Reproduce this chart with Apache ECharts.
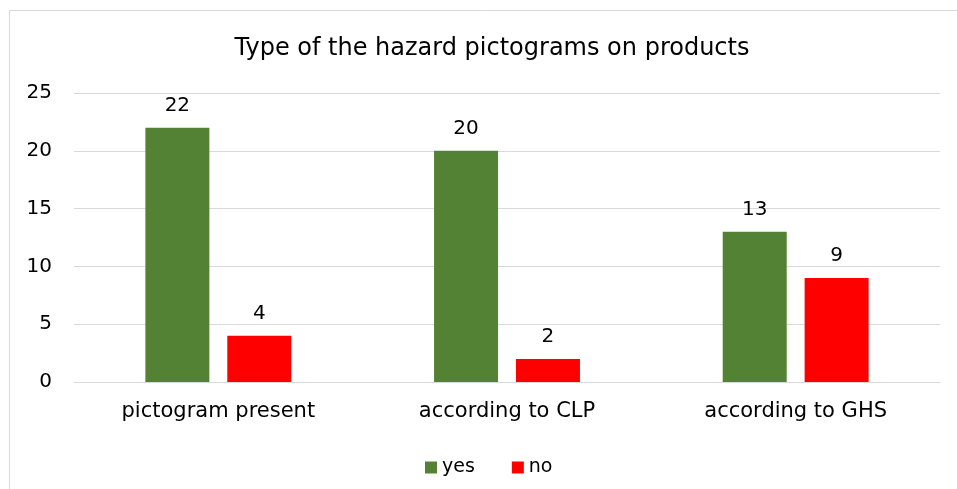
<!DOCTYPE html>
<html><head><meta charset="utf-8">
<script src="https://cdn.jsdelivr.net/npm/echarts@6/dist/echarts.min.js"></script>
<style>html,body{margin:0;padding:0;background:#fff;overflow:hidden}#c{width:957px;height:489px}</style>
</head><body><div id="c"></div>
<script>
const categories = ['pictogram present', 'according to CLP', 'according to GHS'];
const yesValues = [22, 20, 13];
const noValues = [4, 2, 9];
const yTicks = [0, 5, 10, 15, 20, 25];

const font = 'DejaVu Sans';
const chart = echarts.init(document.getElementById('c'), null, {renderer: 'canvas'});
chart.setOption({
  animation: false,
  graphic: [{type: 'polyline', shape: {points: [[9.5, 600], [9.5, 10.5], [1200, 10.5]]},
    style: {fill: null, stroke: '#d9d9d9', lineWidth: 1}, silent: true, z: -10}],
  title: {text: 'Type of the hazard pictograms on products', left: 487, textAlign: 'center', top: 32,
    textStyle: {fontFamily: font, fontSize: 24, fontWeight: 'normal', color: '#000'}},
  grid: {left: 74, right: 17, top: 93, bottom: 107, containLabel: false},
  legend: {bottom: 7, left: 420, itemWidth: 12, itemHeight: 12, itemGap: 37,
    icon: 'rect', textStyle: {fontFamily: font, fontSize: 19, color: '#000'},
    data: ['yes', 'no']},
  xAxis: {type: 'category', data: categories,
    axisLine: {lineStyle: {color: '#d9d9d9', width: 1}}, axisTick: {show: false},
    axisLabel: {fontFamily: font, fontSize: 21, color: '#000', margin: 19}},
  yAxis: {type: 'value', min: 0, max: 25, interval: 5,
    axisLine: {show: false}, axisTick: {show: false},
    splitLine: {lineStyle: {color: '#d9d9d9', width: 1}},
    axisLabel: {fontFamily: font, fontSize: 20, color: '#000', margin: 22, align: 'right',
      formatter: v => yTicks.includes(v) ? String(v) : ''}},
  series: [
    {name: 'yes', type: 'bar', data: yesValues, barWidth: 64, barGap: '28%',
      itemStyle: {color: '#548235'},
      label: {show: true, position: 'top', distance: 12, fontFamily: font, fontSize: 20, color: '#000'}},
    {name: 'no', type: 'bar', data: noValues, barWidth: 64,
      itemStyle: {color: '#FF0000'},
      label: {show: true, position: 'top', distance: 12, fontFamily: font, fontSize: 20, color: '#000'}}
  ]
});
</script></body></html>
